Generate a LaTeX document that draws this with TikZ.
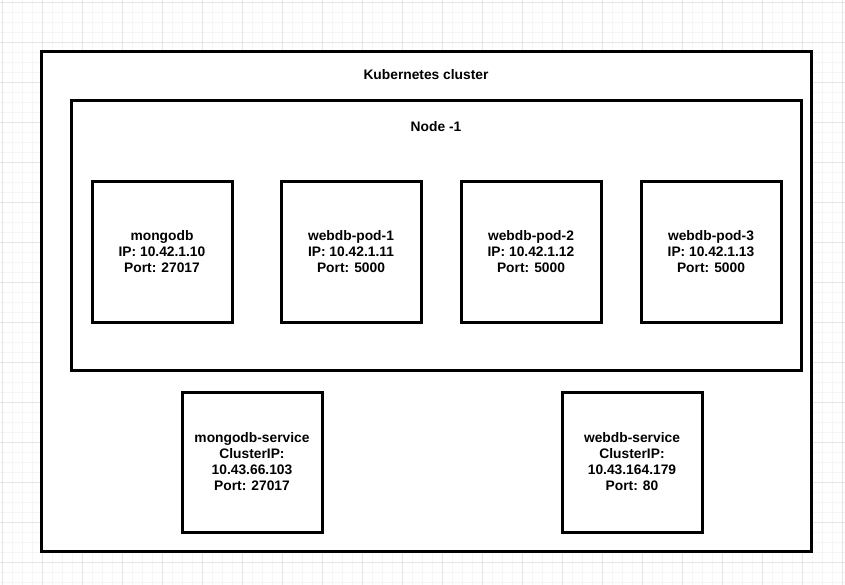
\documentclass[tikz,border=0pt]{standalone}
\usepackage{fontspec}
\setmainfont{Liberation Sans}
\begin{document}
\begin{tikzpicture}[x=1pt, y=-1pt, line join=miter,
  box/.style={rectangle,draw,line width=3pt,fill=white,inner sep=0pt},
  pod/.style={box,minimum size=140pt,align=center,font=\fontsize{13.8}{16}\selectfont\bfseries},
  title/.style={font=\fontsize{13.8}{14}\selectfont\bfseries}]
\useasboundingbox (0,0) rectangle (845,585);
% background grid
\foreach \g in {2,12,...,845} \draw[black!4, line width=0.8pt] (\g,0) -- (\g,585);
\foreach \g in {2,12,...,585} \draw[black!4, line width=0.8pt] (0,\g) -- (845,\g);
\foreach \g in {2,42,...,845} \draw[black!10, line width=0.8pt] (\g,0) -- (\g,585);
\foreach \g in {2,42,...,585} \draw[black!10, line width=0.8pt] (0,\g) -- (845,\g);
\node[box, minimum width=769.5pt, minimum height=499pt] (cluster) at (426.25,301.5) {};
\node[title] (clustertitle) at (426,75) {Kubernetes cluster};
\node[box, minimum width=729.5pt, minimum height=269pt] (node1) at (436.25,235.5) {};
\node[title] (nodetitle) at (436,127) {Node -1};
\node[pod] (mongodb) at (162,252) {mongodb\\IP: 10.42.1.10\\Port: 27017};
\node[pod] (pod1) at (351,252) {webdb-pod-1\\IP: 10.42.1.11\\Port: 5000};
\node[pod] (pod2) at (531,252) {webdb-pod-2\\IP: 10.42.1.12\\Port: 5000};
\node[pod] (pod3) at (711,252) {webdb-pod-3\\IP: 10.42.1.13\\Port: 5000};
\begin{scope}[every node/.style={font=\fontsize{13.4}{16.7}\selectfont\bfseries}]
\node[pod] (mongosvc) at (252,462) {mongodb-service\\ClusterIP:\\10.43.66.103\\Port: 27017};
\node[pod] (websvc) at (632,462) {webdb-service\\ClusterIP:\\10.43.164.179\\Port: 80};
\end{scope}
\end{tikzpicture}
\end{document}
